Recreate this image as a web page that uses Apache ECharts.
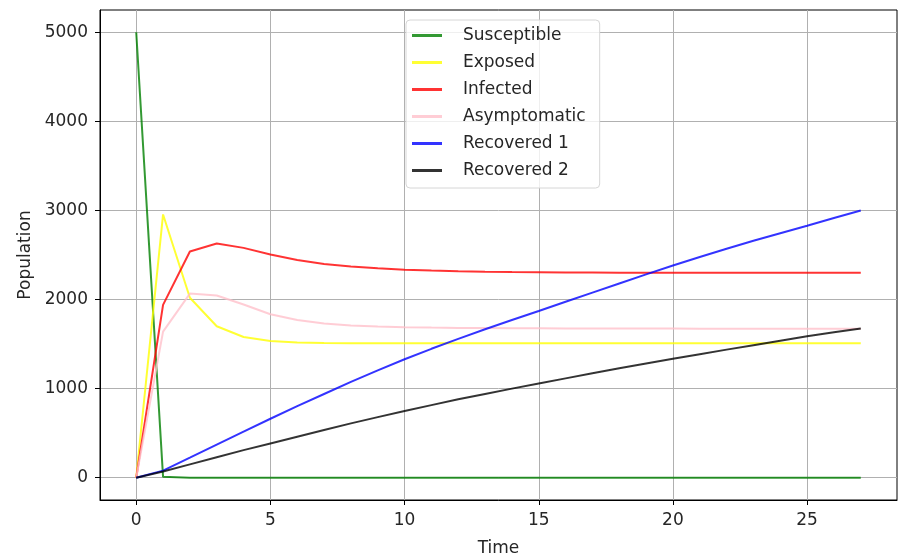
<!DOCTYPE html>
<html>
<head>
<meta charset="utf-8">
<script src="https://cdn.jsdelivr.net/npm/echarts@6/dist/echarts.min.js"></script>
<style>
  html, body { margin: 0; padding: 0; background: #fff; }
  #chart { width: 899px; height: 559px; }
</style>
</head>
<body>
<div id="chart"></div>
<script>
// time steps 0..27
const time = [0, 1, 2, 3, 4, 5, 6, 7, 8, 9, 10, 11, 12, 13, 14, 15, 16, 17, 18, 19, 20, 21, 22, 23, 24, 25, 26, 27];

const susceptible = [5000, 10, 0, 0, 0, 0, 0, 0, 0, 0, 0, 0, 0, 0, 0, 0, 0, 0, 0, 0, 0, 0, 0, 0, 0, 0, 0, 0];
const exposed = [0, 2955, 2020, 1700, 1580, 1535, 1518, 1512, 1510, 1510, 1510, 1510, 1510, 1510, 1510, 1510, 1510, 1510, 1510, 1510, 1510, 1510, 1510, 1510, 1510, 1510, 1510, 1510];
const infected = [0, 1940, 2540, 2630, 2580, 2505, 2445, 2400, 2370, 2350, 2335, 2325, 2318, 2312, 2308, 2306, 2304, 2303, 2302, 2302, 2301, 2301, 2300, 2300, 2300, 2300, 2300, 2300];
const asymptomatic = [0, 1640, 2067, 2045, 1945, 1835, 1770, 1730, 1710, 1697, 1690, 1685, 1682, 1680, 1678, 1677, 1676, 1675, 1675, 1674, 1674, 1673, 1673, 1673, 1672, 1672, 1672, 1672];
const recovered1 = [0, 80, 225, 372, 518, 662, 803, 940, 1075, 1205, 1330, 1447, 1558, 1666, 1770, 1872, 1975, 2078, 2180, 2282, 2382, 2477, 2570, 2660, 2745, 2828, 2915, 3000];
const recovered2 = [0, 70, 150, 230, 310, 385, 460, 535, 610, 680, 750, 815, 880, 940, 1000, 1058, 1115, 1172, 1228, 1282, 1335, 1387, 1438, 1488, 1538, 1588, 1632, 1675];

const xTicks = [0, 5, 10, 15, 20, 25];
const yTicks = [0, 1000, 2000, 3000, 4000, 5000];

const FONT = 'DejaVu Sans';
const TXT = '#262626';

const seriesDefs = [
  { name: 'Susceptible', data: susceptible, color: 'rgba(0,128,0,0.8)' },
  { name: 'Exposed', data: exposed, color: 'rgba(255,255,0,0.8)' },
  { name: 'Infected', data: infected, color: 'rgba(255,0,0,0.8)' },
  { name: 'Asymptomatic', data: asymptomatic, color: 'rgba(255,192,203,0.8)' },
  { name: 'Recovered 1', data: recovered1, color: 'rgba(0,0,255,0.8)' },
  { name: 'Recovered 2', data: recovered2, color: 'rgba(0,0,0,0.8)' },
];

const chart = echarts.init(document.getElementById('chart'), null, { renderer: 'canvas' });

chart.setOption({
  animation: false,
  backgroundColor: '#fff',
  textStyle: { fontFamily: FONT },
  grid: {
    left: 100, right: 2, top: 10, bottom: 59,
    containLabel: false,
    outerBoundsMode: 'none',
    show: true, borderColor: '#000', borderWidth: 1, backgroundColor: 'transparent',
  },
  legend: {
    orient: 'vertical',
    left: 406, top: 20,
    padding: [6, 14, 8, 6],
    itemGap: 8,
    itemWidth: 30,
    itemHeight: 3,
    icon: 'rect',
    borderColor: '#d6d6d6',
    borderWidth: 1,
    borderRadius: 4,
    backgroundColor: 'rgba(255,255,255,0.8)',
    textStyle: { fontFamily: FONT, fontSize: 17, color: TXT, padding: [0, 0, 0, 16], lineHeight: 19 },
    data: seriesDefs.map((s) => s.name),
  },
  xAxis: {
    type: 'value',
    min: -1.35,
    max: 28.35,
    name: 'Time',
    nameLocation: 'middle',
    nameGap: 40,
    nameTextStyle: { fontFamily: FONT, fontSize: 17, color: TXT },
    axisLine: { show: true, onZero: false, lineStyle: { color: '#000' } },
    axisTick: { show: true, inside: false, length: 5, lineStyle: { color: '#000' }, customValues: xTicks },
    axisLabel: { fontFamily: FONT, fontSize: 17, color: TXT, margin: 12, customValues: xTicks, formatter: (v) => String(v) },
    splitLine: { show: true, lineStyle: { color: '#b0b0b0', width: 1 } },
  },
  yAxis: {
    type: 'value',
    min: -250,
    max: 5250,
    name: 'Population',
    nameLocation: 'middle',
    nameGap: 66,
    nameRotate: 90,
    nameTextStyle: { fontFamily: FONT, fontSize: 17, color: TXT },
    axisLine: { show: true, onZero: false, lineStyle: { color: '#000' } },
    axisTick: { show: true, inside: false, length: 5, lineStyle: { color: '#000' }, customValues: yTicks },
    axisLabel: { fontFamily: FONT, fontSize: 17, color: TXT, margin: 12, customValues: yTicks, formatter: (v) => String(v) },
    splitLine: { show: true, lineStyle: { color: '#b0b0b0', width: 1 } },
  },
  series: seriesDefs.map((s) => ({
    name: s.name,
    type: 'line',
    symbol: 'none',
    data: time.map((t, i) => [t, s.data[i]]),
    lineStyle: { color: s.color, width: 2 },
    itemStyle: { color: s.color },
  })),
});
</script>
</body>
</html>
